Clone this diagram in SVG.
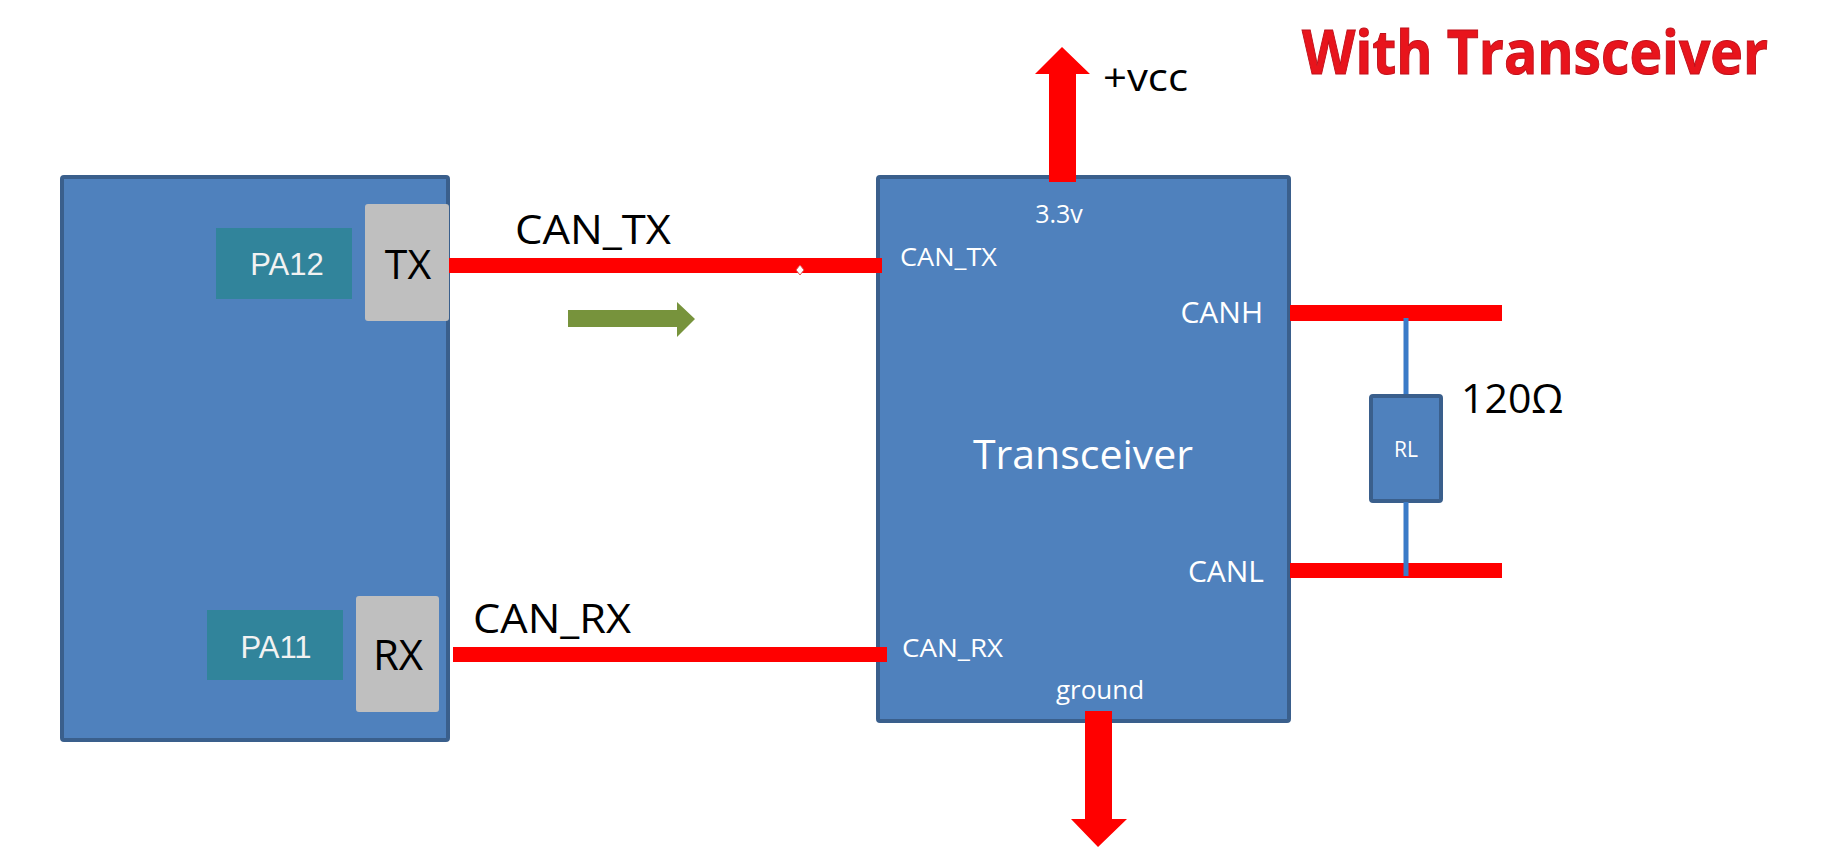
<svg xmlns="http://www.w3.org/2000/svg" width="1830" height="849" viewBox="0 0 1830 849">
<style>
.blk{fill:#4F81BD;stroke:#3A5F8C;stroke-width:4}
.teal{fill:#31849B}
.grey{fill:#BFBFBF}
.wire{fill:#FF0000}
.t{font-family:"Open Sans","DejaVu Sans",sans-serif}
.wt{fill:#FFFFFF}
.bk{fill:#000000}
.pa{font-family:"Liberation Sans",Arial,sans-serif;font-size:31px;fill:#F2F2F2;text-anchor:middle}
</style>
<rect width="1830" height="849" fill="#FFFFFF"/>
<text class="t" x="1302" y="74" font-size="61" font-weight="bold" fill="#E8141C" stroke="#C0101A" stroke-width="1" textLength="466" lengthAdjust="spacingAndGlyphs">With Transceiver</text>
<g id="mcu">
<rect class="blk" x="62" y="177" width="386" height="563" rx="2"/>
<g id="pa12"><rect class="teal" x="216" y="228" width="136" height="71"/><text class="pa" x="287" y="275">PA12</text></g>
<g id="tx"><rect class="grey" x="365" y="204" width="84" height="117" rx="3"/><text class="t bk" x="408" y="279" font-size="41" text-anchor="middle">TX</text></g>
<g id="pa11"><rect class="teal" x="207" y="610" width="136" height="70"/><text class="pa" x="276" y="658">PA11</text></g>
<g id="rx"><rect class="grey" x="356" y="596" width="83" height="116" rx="3"/><text class="t bk" x="398" y="670" font-size="42" text-anchor="middle">RX</text></g>
</g>
<g id="transceiver">
<rect class="blk" x="878" y="177" width="411" height="544" rx="2"/>
<text class="t wt" x="1083" y="469" font-size="41" text-anchor="middle">Transceiver</text>
<text class="t wt" x="1059" y="223" font-size="25" text-anchor="middle">3.3v</text>
<text class="t wt" x="900" y="266" font-size="25" textLength="97" lengthAdjust="spacingAndGlyphs">CAN_TX</text>
<text class="t wt" x="902" y="657" font-size="25" textLength="101" lengthAdjust="spacingAndGlyphs">CAN_RX</text>
<text class="t wt" x="1263" y="323" font-size="30" text-anchor="end">CANH</text>
<text class="t wt" x="1264" y="582" font-size="30" text-anchor="end">CANL</text>
<text class="t wt" x="1100" y="699" font-size="26" text-anchor="middle">ground</text>
</g>
<g id="resistor">
<rect x="1371" y="396" width="70" height="105" rx="2" fill="#4F81BD" stroke="#3A5F8C" stroke-width="4"/>
<text class="t wt" x="1406" y="457" font-size="21" text-anchor="middle">RL</text>
</g>
<g id="connectors">
<rect class="wire" x="449" y="258" width="433" height="15"/>
<polygon points="800,265 804,270 800,275 796,270" fill="#FFFFFF" stroke="#E05050" stroke-width="1"/>
<rect class="wire" x="453" y="647" width="434" height="15"/>
<rect class="wire" x="1290" y="305" width="212" height="16"/>
<rect class="wire" x="1290" y="563" width="212" height="15"/>
<rect x="1403.5" y="318" width="5" height="76" fill="#3A7BC8"/>
<rect x="1403.5" y="502" width="5" height="74" fill="#3A7BC8"/>
<polygon class="wire" points="1049,182 1049,74 1035,74 1062,47 1090,74 1076,74 1076,182"/>
<polygon class="wire" points="1085,711 1112,711 1112,819 1127,819 1098,847 1071,819 1085,819"/>
<polygon points="568,310 677,310 677,302 695,319 677,337 677,327 568,327" fill="#77933C"/>
</g>
<text class="t bk" x="515" y="244" font-size="41" textLength="156" lengthAdjust="spacingAndGlyphs">CAN_TX</text>
<text class="t bk" x="473" y="633" font-size="41" textLength="158" lengthAdjust="spacingAndGlyphs">CAN_RX</text>
<text class="t bk" x="1103" y="91" font-size="38" textLength="85" lengthAdjust="spacingAndGlyphs">+vcc</text>
<text class="t bk" x="1461" y="413" font-size="41">120Ω</text>
</svg>
